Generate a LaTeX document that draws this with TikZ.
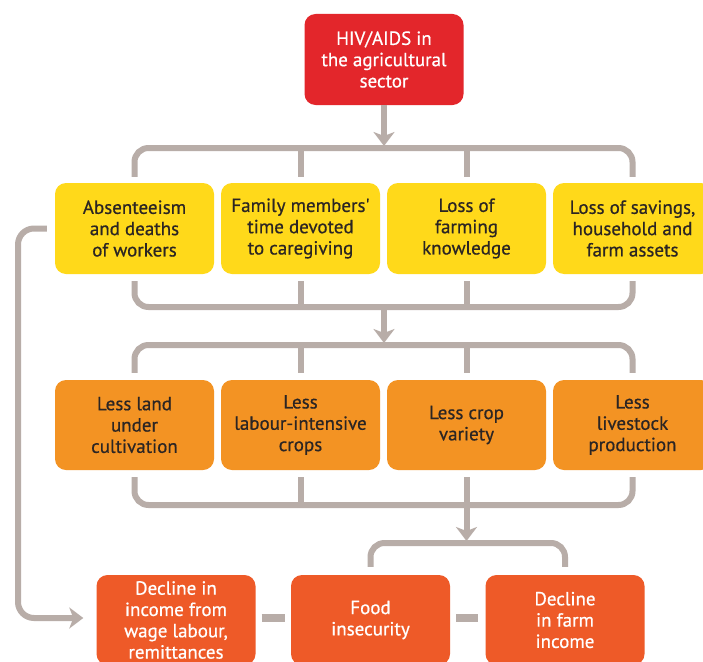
\documentclass[tikz,border=0pt]{standalone}
\usepackage{fontspec}
\setmainfont{PT Sans}
\newfontfamily\boxfont{PT Sans}[FakeBold=0.6]
\usetikzlibrary{arrows.meta,calc}
\definecolor{cred}{HTML}{E3262B}
\definecolor{cyellow}{HTML}{FFD91A}
\definecolor{corange}{HTML}{F39323}
\definecolor{credor}{HTML}{EE5A28}
\definecolor{cgray}{HTML}{B8ADA8}
\definecolor{ctext}{HTML}{2B2523}
\tikzset{
  box/.style={rounded corners=11pt, minimum width=159pt, inner sep=0pt, align=center,
    font=\boxfont\fontsize{19}{21.3}\selectfont},
  topbox/.style={box, fill=cred, text=white, minimum height=91pt},
  ybox/.style={box, fill=cyellow, text=ctext, minimum height=91pt},
  obox/.style={box, fill=corange, text=ctext, minimum height=90pt},
  dbox/.style={box, fill=credor, text=white, minimum height=90pt},
  bracket/.style={draw=cgray, line width=6pt, rounded corners=14pt},
  arr/.style={draw=cgray, line width=6pt, -{Stealth[length=14pt,width=21pt,inset=4pt]}},
  dashseg/.style={draw=cgray, line width=8pt},
}
\begin{document}
\begin{tikzpicture}[x=1pt,y=-1pt]
\clip (0,0) rectangle (703,661);
\fill[white] (0,0) rectangle (703,661);
% nodes
\node[topbox] (top) at (384,59.5) {HIV/AIDS in\\the agricultural\\sector};
\node[ybox] (y1) at (134.5,228.5) {Absenteeism\\and deaths\\of workers};
\node[ybox] (y2) at (300.5,228.5) {Family members'\\time devoted\\to caregiving};
\node[ybox] (y3) at (466.5,228.5) {Loss of\\farming\\knowledge};
\node[ybox] (y4) at (632.5,228.5) {Loss of savings,\\household and\\farm assets};
\node[obox] (o1) at (134.5,425) {Less land\\under\\cultivation};
\node[obox] (o2) at (300.5,425) {Less\\labour-intensive\\crops};
\node[obox] (o3) at (466.5,425) {Less crop\\variety};
\node[obox] (o4) at (632.5,425) {Less\\livestock\\production};
\node[dbox] (d1) at (176,620) {Decline in\\income from\\wage labour,\\remittances};
\node[dbox] (d2) at (370.5,620) {Food\\insecurity};
\node[dbox] (d3) at (565,620) {Decline\\in farm\\income};
% junction coordinates
\coordinate (b1) at (384,148);
\coordinate (b2) at (384,307);
\coordinate (b3) at (384,345);
\coordinate (b4) at (466.5,505);
\coordinate (b5) at (466.5,543);
\coordinate (lx) at (18,400);
% top arrow and first bracket
\draw[arr, shorten >=2pt] (top.south) -- (b1);
\draw[bracket] ([yshift=6pt]y1.north) |- (b1) -| ([yshift=6pt]y4.north);
\draw[bracket] ([yshift=6pt]y2.north) -- (y2.north |- b1);
\draw[bracket] ([yshift=6pt]y3.north) -- (y3.north |- b1);
% bracket under yellow
\draw[bracket] ([yshift=-7pt]y1.south) |- (b2) -| ([yshift=-7pt]y4.south);
\draw[bracket] ([yshift=-7pt]y2.south) -- (y2.south |- b2);
\draw[bracket] ([yshift=-7pt]y3.south) -- (y3.south |- b2);
\draw[arr, shorten >=2pt] (b2) -- (b3);
% bracket above orange
\draw[bracket] ([yshift=7pt]o1.north) |- (b3) -| ([yshift=7pt]o4.north);
\draw[bracket] ([yshift=7pt]o2.north) -- (o2.north |- b3);
\draw[bracket] ([yshift=7pt]o3.north) -- (o3.north |- b3);
% bracket under orange
\draw[bracket] ([yshift=-7pt]o1.south) |- (b4) -| ([yshift=-7pt]o4.south);
\draw[bracket] ([yshift=-7pt]o2.south) -- (o2.south |- b4);
\draw[bracket] ([yshift=-7pt]o3.south) -- (o3.south |- b4);
\draw[arr, shorten >=2pt] (b4) -- (b5);
% small bracket over bottom boxes
\draw[bracket] ([yshift=8pt]d2.north) |- (b5) -| ([yshift=8pt]d3.north);
% dashes between bottom boxes
\draw[dashseg, shorten <=6pt, shorten >=6pt] ([yshift=2pt]d1.east) -- ([yshift=2pt]d2.west);
\draw[dashseg, shorten <=6pt, shorten >=7pt] ([yshift=2pt]d2.east) -- ([yshift=2pt]d3.west);
% left loop
\draw[arr, rounded corners=16pt] ([xshift=-8pt]y1.west) -| (lx) |- ([xshift=-13pt,yshift=2pt]d1.west);
\end{tikzpicture}
\end{document}
